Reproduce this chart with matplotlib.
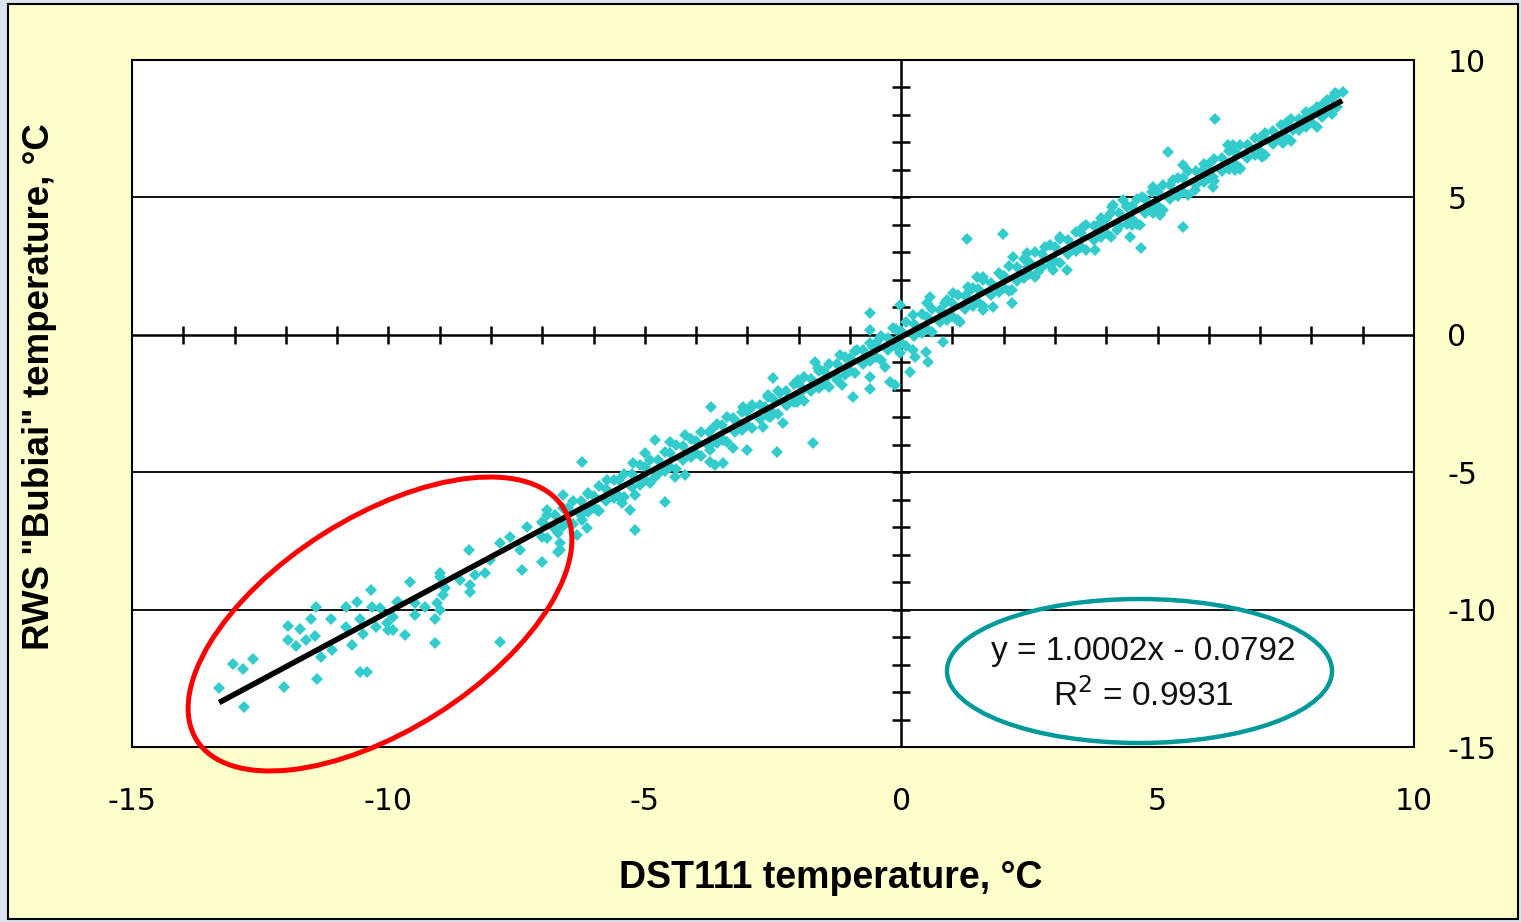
import numpy as np
import matplotlib
matplotlib.use("Agg")
import matplotlib.pyplot as plt
from matplotlib.patches import Ellipse, Rectangle

plt.rcParams['font.family'] = ['Liberation Sans', 'DejaVu Sans']
plt.rcParams['axes.unicode_minus'] = False

# ---------------- data ----------------
# scattered / outlying points
sc_x = [-13.30, -12.81, -13.03, -12.83, -12.64, -12.03, -11.95, -11.72, -11.95, -11.80,
        -11.60, -11.43, -11.51, -11.41, -11.39, -11.31, -11.12, -11.10, -10.82, -10.82,
        -10.71, -10.61, -10.55, -10.49, -10.55, -10.41, -10.34, -10.32, -10.24, -10.02,
        -10.00, -10.16, -9.91, -9.83, -9.91, -9.67, -9.81, -9.57, -9.48, -9.28,
        -9.48, -9.09, -9.09, -9.05, -8.99, -8.89, -8.93, -8.99, -8.60, -8.40,
        -8.40, -8.31, -8.11, -7.82, -7.39, -7.00, -8.01, -6.22, -8.42, -7.82,
        -8.99, -7.43, -7.62, -7.29, -6.98, -6.90, -6.69, -6.69, -6.65, -6.59,
        -6.32, -6.22, -6.12, -5.93, -6.10, -5.73, -5.48, -5.44, -5.28, -5.19,
        -5.19, -5.23, -4.99, -4.80, -4.80, -4.60, -4.60, -4.50, -4.41, -4.21,
        -4.21, -4.08, -6.65, -5.91, -4.11, -3.72, -3.63, -3.47, -3.72, -3.67,
        -3.47, -3.28, -3.28, -3.00, -2.69, -2.42, -2.30, -2.52, -3.71, -3.08,
        -2.91, -2.65, -2.59, -2.50, -2.55, -2.36, -2.22, -2.01, -2.03, -1.91,
        -1.72, -1.68, -1.62, -1.44, -1.19, -1.25, -1.15, -1.05, -0.94, -0.86,
        -0.76, -0.60, -0.60, -0.60, -0.60, -0.55, -0.41, -0.31, -0.21, -0.12,
        -0.16, -0.02, -0.08, -0.02, 0.18, 0.23, 0.27, 0.23, 0.49, 0.53,
        0.51, 0.57, 0.82, 0.86, 1.01, 1.09, 1.31, 1.48, 1.29, 1.99,
        1.15, 1.35, 1.60, 1.60, 1.79, 1.99, 2.16, 2.18, 2.16, 2.46,
        2.48, 2.67, 2.81, 2.96, 3.10, 3.24, 3.35, 3.55, 3.78, 3.88,
        4.11, 4.21, 4.47, 4.66, 4.68, 4.41, 4.91, 5.50, 5.21, 6.12,
        5.50, 5.73, 6.08, 5.05, 4.91, 4.70, 4.13, 4.33, 4.50, 5.25,
        5.30, 5.89, 6.08, 6.38, 6.51, 6.61, 6.77, 7.04, 7.06, 7.29,
        7.45, 7.53, 7.64, 8.03, 8.21, 8.31, 8.46, 8.62, 7.84, 6.47]
sc_y = [-12.85, -13.54, -11.97, -12.15, -11.79, -12.81, -10.59, -10.70, -11.10, -11.32,
        -11.10, -10.95, -10.33, -9.90, -12.52, -11.72, -10.33, -11.46, -9.90, -10.63,
        -11.28, -9.72, -10.33, -10.88, -12.26, -12.26, -9.28, -9.90, -10.63, -10.48,
        -10.73, -9.93, -10.26, -9.72, -10.73, -10.92, -9.72, -8.99, -10.19, -9.90,
        -9.75, -10.33, -11.21, -9.75, -8.81, -9.21, -9.46, -10.01, -8.92, -9.35,
        -9.10, -8.73, -8.66, -11.17, -8.55, -8.26, -8.19, -4.62, -7.82, -7.57,
        -8.66, -7.82, -7.35, -6.99, -6.84, -6.37, -7.21, -7.90, -7.57, -5.82,
        -7.28, -6.73, -7.02, -6.37, -5.75, -5.28, -5.93, -6.11, -6.37, -5.82,
        -7.10, -4.66, -4.29, -3.82, -5.17, -4.91, -6.08, -3.89, -5.17, -5.09,
        -3.64, -4.37, -7.82, -6.37, -4.29, -4.62, -4.73, -4.66, -4.18, -3.38,
        -3.82, -4.11, -3.02, -4.18, -3.35, -4.26, -3.20, -2.91, -2.62, -2.62,
        -2.62, -2.62, -2.18, -1.56, -2.98, -2.11, -2.55, -1.64, -2.44, -2.00,
        -3.93, -0.98, -1.20, -1.53, -0.73, -1.64, -1.82, -1.16, -2.26, -0.55,
        -0.91, 0.80, 0.18, -1.53, -1.97, -0.44, -0.11, -1.16, -1.71, -1.82,
        0.25, 1.09, -0.18, -0.66, -1.35, -0.55, -0.80, 0.73, -0.62, -0.98,
        1.16, 1.38, -0.25, 1.16, 1.53, 0.55, 1.75, 2.11, 3.49, 3.68,
        0.47, 1.64, 2.11, 0.91, 1.02, 2.11, 1.64, 2.84, 1.16, 2.98,
        2.47, 2.29, 3.20, 2.37, 3.57, 2.37, 3.20, 3.93, 3.09, 4.08,
        4.66, 3.82, 3.57, 4.00, 3.17, 4.66, 4.44, 3.93, 6.66, 7.86,
        6.19, 5.28, 5.39, 4.37, 5.39, 5.02, 4.73, 4.91, 4.00, 4.99,
        5.64, 6.00, 5.75, 6.91, 6.00, 6.08, 6.91, 6.48, 7.21, 7.10,
        6.99, 7.75, 7.46, 8.08, 7.93, 8.55, 8.81, 8.84, 7.82, 6.91]

# dense band of points close to the trend line
band_x = [-7.0, -6.75, -6.5, -6.25, -6.0, -5.75, -5.5, -5.25, -5.0, -4.75,
          -4.5, -4.25, -4.0, -3.75, -3.5, -3.25, -3.0, -2.75, -2.5, -2.25,
          -2.0, -1.75, -1.5, -1.25, -1.0, -0.75, -0.5, -0.25, 0.0, 0.25,
          0.5, 0.75, 1.0, 1.25, 1.5, 1.75, 2.0, 2.25, 2.5, 2.75,
          3.0, 3.25, 3.5, 3.75, 4.0, 4.25, 4.5, 4.75, 5.0, 5.25,
          5.5, 5.75, 6.0, 6.25, 6.5, 6.75, 7.0, 7.25, 7.5, 7.75,
          8.0, 8.25, 8.5]
band_hi = [-6.80, -6.55, -6.30, -6.05, -5.85, -5.60, -5.30, -5.05, -4.80, -4.55,
           -4.30, -4.05, -3.85, -3.55, -3.30, -3.10, -2.80, -2.55, -2.35, -2.05,
           -1.80, -1.60, -1.30, -1.05, -0.85, -0.55, -0.30, -0.10, 0.15, 0.40,
           0.65, 0.90, 1.15, 1.40, 1.65, 1.90, 2.15, 2.45, 2.65, 2.95,
           3.20, 3.45, 3.70, 3.95, 4.20, 4.45, 4.70, 4.95, 5.20, 5.45,
           5.70, 5.95, 6.20, 6.45, 6.65, 6.90, 7.15, 7.40, 7.65, 7.85,
           8.10, 8.45, 8.75]
band_lo = [-7.35, -7.05, -6.80, -6.55, -6.30, -6.05, -5.85, -5.55, -5.30, -5.05,
           -4.80, -4.55, -4.30, -4.05, -3.80, -3.55, -3.30, -3.05, -2.85, -2.55,
           -2.30, -2.05, -1.80, -1.55, -1.30, -1.05, -0.80, -0.55, -0.30, -0.05,
           0.20, 0.45, 0.70, 0.95, 1.20, 1.45, 1.70, 1.95, 2.20, 2.45,
           2.70, 2.95, 3.20, 3.45, 3.70, 3.95, 4.20, 4.45, 4.70, 4.95,
           5.20, 5.45, 5.70, 5.95, 6.20, 6.45, 6.70, 6.95, 7.20, 7.45,
           7.75, 8.00, 8.30]
# second, looser rows of the band (where it is widest)
band2_x = [-6.9, -6.4, -5.9, -5.4, -4.9, -4.4, -3.9, -3.4, -2.9, -2.4,
           -1.9, -1.4, -0.9, -0.4, 0.1, 0.6, 1.1, 1.6, 2.1, 2.6,
           3.1, 3.6, 4.1, 4.6, 5.1, 5.6, 6.1, 6.6, 7.1, 7.6, 8.1]
band2_hi = [-6.55, -6.05, -5.50, -5.05, -4.55, -4.00, -3.55, -3.00, -2.55, -2.05,
            -1.55, -1.05, -0.60, -0.05, 0.45, 0.95, 1.45, 2.00, 2.50, 3.00,
            3.50, 4.00, 4.45, 4.95, 5.45, 5.95, 6.40, 6.90, 7.35, 7.85, 8.30]
band2_lo = [-7.40, -6.90, -6.40, -5.90, -5.40, -4.90, -4.40, -3.90, -3.40, -2.90,
            -2.40, -1.90, -1.40, -0.90, -0.40, 0.10, 0.55, 1.05, 1.60, 2.10,
            2.60, 3.10, 3.55, 4.05, 4.55, 5.10, 5.60, 6.05, 6.55, 7.05, 7.55]
band3_x = [-6.6, -6.1, -5.6, -5.1, -4.6, -4.1, -3.6, -3.1, -2.6, -2.1,
           -1.6, -1.1, -0.6, -0.1, 0.4, 0.9, 1.4, 1.9, 2.4, 2.9,
           3.4, 3.9, 4.4, 4.9, 5.4, 5.9, 6.4, 6.9, 7.4, 7.9, 8.4]
band3_hi = [-6.30, -5.80, -5.30, -4.75, -4.25, -3.80, -3.25, -2.80, -2.25, -1.80,
            -1.30, -0.80, -0.30, 0.20, 0.75, 1.25, 1.70, 2.25, 2.75, 3.25,
            3.75, 4.25, 4.70, 5.20, 5.70, 6.20, 6.70, 7.15, 7.65, 8.10, 8.60]
band3_lo = [-6.95, -6.45, -5.95, -5.45, -4.95, -4.45, -3.95, -3.45, -2.95, -2.45,
            -1.95, -1.45, -0.95, -0.45, 0.05, 0.55, 1.05, 1.55, 2.05, 2.55,
            3.05, 3.55, 4.05, 4.55, 5.05, 5.55, 6.05, 6.55, 7.05, 7.55, 8.05]

trend_slope = 1.0002
trend_intercept = -0.0792
trend_xrange = [-13.3, 8.6]
equation_text = "y = 1.0002x - 0.0792"
r2_text = "R$^2$ = 0.9931"

x_ticks = [-15, -10, -5, 0, 5, 10]
y_ticks = [-15, -10, -5, 0, 5, 10]
y_grid = [-10, -5, 5]
minor_x = [v for v in range(-14, 10) if v != 0]
minor_y = [v for v in range(-14, 10) if v != 0]

xlabel = "DST111 temperature, °C"
ylabel = 'RWS "Bubiai" temperature, °C'

# ---------------- figure ----------------
W, H = 1521, 922
fig = plt.figure(figsize=(W / 100, H / 100), dpi=100)
fig.patch.set_facecolor('#DDE3EC')

# background overlay (pixel coordinates)
bg = fig.add_axes([0, 0, 1, 1], zorder=0)
bg.set_xlim(0, W)
bg.set_ylim(H, 0)
bg.axis('off')
bg.add_patch(Rectangle((7.5, 4.5), W - 11, H - 8, facecolor='#FFFFCC',
                       edgecolor='black', lw=1.5))

ax = fig.add_axes([132 / W, 1 - 747 / H, (1414 - 132) / W, (747 - 60) / H], zorder=1)
ax.set_facecolor('white')
ax.set_xlim(-15, 10)
ax.set_ylim(-15, 10)
for s in ax.spines.values():
    s.set_color('black')
    s.set_linewidth(1.5)

for g in y_grid:
    ax.axhline(g, color='black', lw=1.3, zorder=1)
ax.axhline(0, color='black', lw=1.8, zorder=1)
ax.axvline(0, color='black', lw=1.8, zorder=1)
ax.plot(minor_x, [0] * len(minor_x), ls='none', marker='|', ms=13, mew=1.8,
        color='black', zorder=1)
ax.plot([0] * len(minor_y), minor_y, ls='none', marker='_', ms=13, mew=1.8,
        color='black', zorder=1)

pt_color = '#33CCCC'
mk = dict(ls='none', marker='D', ms=6.4, mew=0, color=pt_color, zorder=2)
for bx, by in [(band_x, band_hi), (band_x, band_lo), (band2_x, band2_hi),
               (band2_x, band2_lo), (band3_x, band3_hi), (band3_x, band3_lo),
               (sc_x, sc_y)]:
    ax.plot(bx, by, **mk)

tx = np.array(trend_xrange)
ax.plot(tx, trend_slope * tx + trend_intercept, color='black', lw=4,
        solid_capstyle='butt', zorder=3)

ax.set_xticks(x_ticks)
ax.set_yticks(y_ticks)
ax.yaxis.tick_right()
ax.tick_params(axis='both', length=0, colors='black')
ax.tick_params(axis='x', pad=29)
ax.tick_params(axis='y', pad=24)
for lab in ax.get_xticklabels() + ax.get_yticklabels():
    lab.set_fontfamily('DejaVu Sans')
    lab.set_fontsize(21.5)

fig.text(831 / W, 1 - 878 / H, xlabel, ha='center', va='center',
         fontsize=27, fontweight='bold')
fig.text(40 / W, 1 - 387 / H, ylabel, ha='center', va='center', rotation=90,
         fontsize=26.5, fontweight='bold')

# annotation overlay (pixel coordinates)
ov = fig.add_axes([0, 0, 1, 1], zorder=5)
ov.set_xlim(0, W)
ov.set_ylim(H, 0)
ov.axis('off')
ov.patch.set_alpha(0)
ov.add_patch(Ellipse((380, 624), 434, 213, angle=-32.4, fill=False,
                     edgecolor='#FF0000', lw=3.6))
ov.add_patch(Ellipse((1139.5, 671), 385, 144, angle=0, fill=False,
                     edgecolor='#009999', lw=3.2))
ov.text(1143, 651, equation_text, ha='center', va='center', fontsize=24, color='#111111')
ov.text(1143, 696, r2_text, ha='center', va='center', fontsize=24, color='#111111')

fig.savefig('out.png', dpi=100, facecolor=fig.get_facecolor())
